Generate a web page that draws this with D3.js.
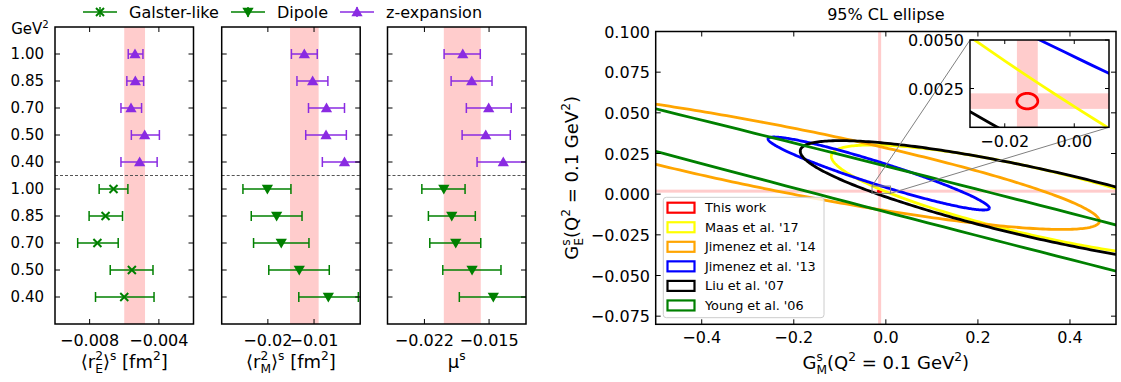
<!DOCTYPE html>
<html>
<head>
<meta charset="utf-8">
<script src="https://cdn.jsdelivr.net/npm/d3@7"></script>
<style>
  body { margin: 0; background: #fff; }
  text { font-family: "DejaVu Sans", sans-serif; fill: #000; }
</style>
</head>
<body>
<svg id="chart" width="1121" height="382"></svg>
<script>
// ---------- data ----------
const q2Labels = ["1.00", "0.85", "0.70", "0.50", "0.40"];

// [central, lower, upper] for each Q^2 row, top to bottom
const rE_zexp = [[-0.00538, -0.00577, -0.00492], [-0.00536, -0.00585, -0.00488], [-0.00561, -0.00619, -0.00500], [-0.00482, -0.00559, -0.00397], [-0.00511, -0.00619, -0.00410]];
const rE_galster = [[-0.00662, -0.00745, -0.00579], [-0.00708, -0.00803, -0.00610], [-0.00755, -0.00869, -0.00635], [-0.00556, -0.00681, -0.00434], [-0.00600, -0.00766, -0.00428]];
const rM_zexp = [[-0.0121, -0.0149, -0.0093], [-0.0103, -0.0137, -0.0070], [-0.0073, -0.0112, -0.0034], [-0.0074, -0.0118, -0.0030], [-0.0034, -0.0082, 0.0014]];
const rM_dipole = [[-0.0201, -0.0254, -0.0150], [-0.0181, -0.0236, -0.0126], [-0.0171, -0.0231, -0.0111], [-0.0132, -0.0198, -0.0067], [-0.0069, -0.0133, -0.0004]];
const mu_zexp = [[-0.01785, -0.01987, -0.01595], [-0.01688, -0.01911, -0.01468], [-0.01504, -0.01746, -0.01260], [-0.01536, -0.01792, -0.01270], [-0.01346, -0.01630, -0.01062]];
const mu_dipole = [[-0.01990, -0.02228, -0.01760], [-0.01904, -0.02157, -0.01649], [-0.01861, -0.02142, -0.01590], [-0.01684, -0.02001, -0.01371], [-0.01454, -0.01822, -0.01086]];

// "this work" bands
const rE_band = [-0.0060, -0.0048];
const rM_band = [-0.0152, -0.0090];
const mu_band = [-0.0199, -0.0159];

// 95% CL ellipses: centre, half extents and correlation
const ellipseLabels = ["This work", "Maas et al. '17", "Jimenez et al. '14", "Jimenez et al. '13", "Liu et al. '07", "Young et al. '06"];
const ellipseColors = ["red", "yellow", "orange", "blue", "black", "green"];
const gmCenter = [-0.0135, 0.3246, -0.216, -0.0155, 0.344, 0.3];
const geCenter = [0.00185, -0.0047, 0.0211, 0.0127, -0.0066, -0.0186];
const gmHalf = [0.003, 0.443, 0.68, 0.2405, 0.53, 2.0];
const geHalf = [0.0004, 0.03494, 0.0428, 0.02244, 0.0395, 0.1457];
const corr = [0, -0.801, -0.880, -0.947, -0.8355, -0.9952];

const purple = "#8a2be2", green = "#008000", pink = "#ffcccc";

const svg = d3.select("#chart");

function measure(str, size) {
    const t = svg.append("text").attr("font-size", size).text(str);
    const w = t.node().getComputedTextLength();
    t.remove();
    return w;
}

// text with simple super/subscripts
function mathText(g, parts, size) {
    const small = size * 0.68;
    let cur = 0, pad = 0;
    parts.forEach((p) => {
        if (typeof p === "string") {
            g.append("tspan").attr("dx", pad).attr("dy", -cur).attr("font-size", size).text(p);
            cur = 0; pad = 0;
        } else {
            let w = 0;
            if (p.sup) {
                const o = -size * 0.42;
                g.append("tspan").attr("dx", pad).attr("dy", o - cur).attr("font-size", small).text(p.sup);
                cur = o; pad = 0; w = measure(p.sup, small);
            }
            if (p.sub) {
                const o = size * 0.3, ws = measure(p.sub, small);
                g.append("tspan").attr("dx", pad - w).attr("dy", o - cur).attr("font-size", small).text(p.sub);
                cur = o; pad = Math.max(0, w - ws);
            }
        }
    });
    return g;
}

// ---------- left: three errorbar panels ----------
const panelTop = 27, panelBottom = 324, panelWidth = 138.5, tickLen = 5;
const rowY = d3.scaleLinear().domain([0, 11]).range([panelTop, panelBottom]);

const panels = [
    { left: 55, domain: [-0.010, -0.002], ticks: [-0.008, -0.004], fmt: d3.format(".3f"), band: rE_band, upper: rE_zexp, lower: rE_galster, lowerMarker: "x",
      label: ["\u27e8r", { sup: "2", sub: "E" }, "\u27e9", { sup: "s" }, " [fm", { sup: "2" }, "]"] },
    { left: 221.7, domain: [-0.03, 0.0], ticks: [-0.02, -0.01], fmt: d3.format(".2f"), band: rM_band, upper: rM_zexp, lower: rM_dipole, lowerMarker: "down",
      label: ["\u27e8r", { sup: "2", sub: "M" }, "\u27e9", { sup: "s" }, " [fm", { sup: "2" }, "]"] },
    { left: 387.5, domain: [-0.026, -0.011], ticks: [-0.022, -0.015], fmt: d3.format(".3f"), band: mu_band, upper: mu_zexp, lower: mu_dipole, lowerMarker: "down",
      label: ["\u03bc", { sup: "s" }] }
];

const triUp = d3.symbol(d3.symbolTriangle, 55)();

function drawMarker(g, kind, color) {
    if (kind === "x") {
        g.append("path").attr("d", "M-4,-4L4,4M-4,4L4,-4").attr("stroke", color).attr("stroke-width", 2);
    } else {
        g.append("path").attr("d", triUp).attr("fill", color)
            .attr("transform", kind === "down" ? "translate(0,-1) rotate(180)" : "translate(0,1)");
    }
}

panels.forEach((p, pi) => {
    const x = d3.scaleLinear().domain(p.domain).range([p.left, p.left + panelWidth]);
    const g = svg.append("g");
    const clipId = "clip" + pi;
    svg.append("clipPath").attr("id", clipId).append("rect")
        .attr("x", p.left).attr("y", panelTop).attr("width", panelWidth).attr("height", panelBottom - panelTop);
    const inner = g.append("g").attr("clip-path", `url(#${clipId})`);

    inner.append("rect").attr("x", x(p.band[0])).attr("width", x(p.band[1]) - x(p.band[0]))
        .attr("y", panelTop).attr("height", panelBottom - panelTop).attr("fill", pink);

    inner.append("line").attr("x1", p.left).attr("x2", p.left + panelWidth)
        .attr("y1", rowY(5.5)).attr("y2", rowY(5.5))
        .attr("stroke", "#555").attr("stroke-width", 1).attr("stroke-dasharray", "3,2");

    const series = [
        { data: p.upper, offset: 1, color: purple, marker: "up" },
        { data: p.lower, offset: 6, color: green, marker: p.lowerMarker }
    ];
    series.forEach((s) => {
        s.data.forEach((d, i) => {
            const y = rowY(i + s.offset);
            const eg = inner.append("g");
            eg.append("line").attr("x1", x(d[1])).attr("x2", x(d[2])).attr("y1", y).attr("y2", y)
                .attr("stroke", s.color).attr("stroke-width", 1.5);
            [d[1], d[2]].forEach((v) => {
                eg.append("line").attr("x1", x(v)).attr("x2", x(v)).attr("y1", y - 5).attr("y2", y + 5)
                    .attr("stroke", s.color).attr("stroke-width", 1.5);
            });
            drawMarker(eg.append("g").attr("transform", `translate(${x(d[0])},${y})`), s.marker, s.color);
        });
    });

    // frame + inward ticks
    g.append("rect").attr("x", p.left).attr("y", panelTop).attr("width", panelWidth)
        .attr("height", panelBottom - panelTop).attr("fill", "none").attr("stroke", "#000").attr("stroke-width", 1.5);
    const rows = d3.range(1, 6).concat(d3.range(6, 11));
    rows.forEach((r) => {
        const y = rowY(r);
        g.append("line").attr("x1", p.left).attr("x2", p.left + tickLen).attr("y1", y).attr("y2", y).attr("stroke", "#000");
        g.append("line").attr("x1", p.left + panelWidth - tickLen).attr("x2", p.left + panelWidth).attr("y1", y).attr("y2", y).attr("stroke", "#000");
    });
    p.ticks.forEach((t) => {
        g.append("line").attr("x1", x(t)).attr("x2", x(t)).attr("y1", panelBottom).attr("y2", panelBottom - tickLen).attr("stroke", "#000");
        g.append("line").attr("x1", x(t)).attr("x2", x(t)).attr("y1", panelTop).attr("y2", panelTop + tickLen).attr("stroke", "#000");
        g.append("text").attr("x", x(t)).attr("y", 345.5).attr("text-anchor", "middle").attr("font-size", 16).text(p.fmt(t));
    });
    mathText(g.append("text").attr("x", p.left + panelWidth / 2).attr("y", 368).attr("text-anchor", "middle"), p.label, 18);

    if (pi === 0) {
        rows.forEach((r, i) => {
            g.append("text").attr("x", 44).attr("y", rowY(r) + 5).attr("text-anchor", "end")
                .attr("font-size", 15).text(q2Labels[i % 5]);
        });
        mathText(g.append("text").attr("x", 30).attr("y", 34).attr("text-anchor", "middle"), ["GeV", { sup: "2" }], 15);
    }
});

// top legend
const topLegend = [
    { label: "Galster-like", x: 83, marker: "x", color: green },
    { label: "Dipole", x: 231, marker: "down", color: green },
    { label: "z-expansion", x: 340, marker: "up", color: purple }
];
topLegend.forEach((l) => {
    const g = svg.append("g").attr("transform", `translate(${l.x},12)`);
    g.append("line").attr("x1", 0).attr("x2", 34).attr("stroke", l.color).attr("stroke-width", 1.5);
    g.append("line").attr("x1", 17).attr("x2", 17).attr("y1", -5).attr("y2", 5).attr("stroke", l.color).attr("stroke-width", 1.5);
    drawMarker(g.append("g").attr("transform", "translate(17,0)"), l.marker, l.color);
    g.append("text").attr("x", 46).attr("y", 6).attr("font-size", 16).text(l.label);
});

// ---------- right: ellipse plot ----------
const mLeft = 655.7, mRight = 1116, mTop = 31.5, mBottom = 324.3;
const xM = d3.scaleLinear().domain([-0.5, 0.5]).range([mLeft, mRight]);
const yM = d3.scaleLinear().domain([-0.08, 0.1]).range([mBottom, mTop]);

function ellipsePoints(i) {
    const r = corr[i], s = Math.sqrt(1 - r * r);
    return d3.range(0, 361, 1).map((deg) => {
        const t = deg * Math.PI / 180;
        return [gmCenter[i] + gmHalf[i] * Math.cos(t), geCenter[i] + geHalf[i] * (r * Math.cos(t) + s * Math.sin(t))];
    });
}

function drawContent(g, x, y, lw, minBand) {
    const bx0 = gmCenter[0] - gmHalf[0], bx1 = gmCenter[0] + gmHalf[0];
    const by0 = geCenter[0] - geHalf[0], by1 = geCenter[0] + geHalf[0];
    const [r0, r1] = x.range(), [t1, t0] = y.range();
    const bw = Math.max(x(bx1) - x(bx0), minBand);
    const bh = Math.max(y(by0) - y(by1), minBand);
    g.append("rect").attr("x", (x(bx0) + x(bx1)) / 2 - bw / 2).attr("width", bw)
        .attr("y", t0).attr("height", t1 - t0).attr("fill", pink);
    g.append("rect").attr("y", (y(by0) + y(by1)) / 2 - bh / 2).attr("height", bh)
        .attr("x", r0).attr("width", r1 - r0).attr("fill", pink);
    const line = d3.line().x((d) => x(d[0])).y((d) => y(d[1]));
    ellipseLabels.forEach((_, i) => {
        g.append("path").attr("d", line(ellipsePoints(i))).attr("fill", "none")
            .attr("stroke", ellipseColors[i]).attr("stroke-width", lw);
    });
}

svg.append("clipPath").attr("id", "clipMain").append("rect")
    .attr("x", mLeft).attr("y", mTop).attr("width", mRight - mLeft).attr("height", mBottom - mTop);
drawContent(svg.append("g").attr("clip-path", "url(#clipMain)"), xM, yM, 2.8, 3);

// main frame, ticks
svg.append("rect").attr("x", mLeft).attr("y", mTop).attr("width", mRight - mLeft).attr("height", mBottom - mTop)
    .attr("fill", "none").attr("stroke", "#000").attr("stroke-width", 1.5);
const xTicksM = [-0.4, -0.2, 0.0, 0.2, 0.4];
const yTicksM = [-0.075, -0.05, -0.025, 0, 0.025, 0.05, 0.075, 0.1];
xTicksM.forEach((t) => {
    svg.append("line").attr("x1", xM(t)).attr("x2", xM(t)).attr("y1", mBottom).attr("y2", mBottom - tickLen).attr("stroke", "#000");
    svg.append("line").attr("x1", xM(t)).attr("x2", xM(t)).attr("y1", mTop).attr("y2", mTop + tickLen).attr("stroke", "#000");
    svg.append("text").attr("x", xM(t)).attr("y", 343).attr("text-anchor", "middle").attr("font-size", 16).text(d3.format(".1f")(t));
});
yTicksM.forEach((t) => {
    svg.append("line").attr("x1", mLeft).attr("x2", mLeft + tickLen).attr("y1", yM(t)).attr("y2", yM(t)).attr("stroke", "#000");
    svg.append("line").attr("x1", mRight - tickLen).attr("x2", mRight).attr("y1", yM(t)).attr("y2", yM(t)).attr("stroke", "#000");
    svg.append("text").attr("x", 650).attr("y", yM(t) + 6).attr("text-anchor", "end").attr("font-size", 16).text(d3.format(".3f")(t));
});
svg.append("text").attr("x", (mLeft + mRight) / 2).attr("y", 20).attr("text-anchor", "middle").attr("font-size", 16).text("95% CL ellipse");
mathText(svg.append("text").attr("x", (mLeft + mRight) / 2).attr("y", 369).attr("text-anchor", "middle"),
    ["G", { sup: "s", sub: "M" }, "(Q", { sup: "2" }, " = 0.1 GeV", { sup: "2" }, ")"], 18);
mathText(svg.append("text").attr("transform", `translate(578,${(mTop + mBottom) / 2}) rotate(-90)`).attr("text-anchor", "middle"),
    ["G", { sup: "s", sub: "E" }, "(Q", { sup: "2" }, " = 0.1 GeV", { sup: "2" }, ")"], 18);

// legend
const lg = svg.append("g");
lg.append("rect").attr("x", 663.3).attr("y", 197.3).attr("width", 160.7).attr("height", 120.4).attr("rx", 3)
    .attr("fill", "#fff").attr("fill-opacity", 0.8).attr("stroke", "#ccc");
ellipseLabels.forEach((name, i) => {
    const y = 207.7 + i * 19.55;
    lg.append("rect").attr("x", 667.5).attr("y", y - 5).attr("width", 27).attr("height", 10)
        .attr("fill", "none").attr("stroke", ellipseColors[i]).attr("stroke-width", 2.2);
    lg.append("text").attr("x", 705).attr("y", y + 4.5).attr("font-size", 12.8).text(name);
});

// inset
const iLeft = 970, iRight = 1109, iTop = 40, iBottom = 127.3;
const xI = d3.scaleLinear().domain([-0.03, 0.01]).range([iLeft, iRight]);
const yI = d3.scaleLinear().domain([0.0005, 0.005]).range([iBottom, iTop]);

// zoom indicator and connectors
svg.append("rect").attr("x", xM(-0.03)).attr("y", yM(0.005)).attr("width", xM(0.01) - xM(-0.03))
    .attr("height", yM(0.0005) - yM(0.005)).attr("fill", "none").attr("stroke", "#808080").attr("stroke-width", 1);
svg.append("line").attr("x1", iLeft).attr("y1", iTop).attr("x2", xM(-0.03)).attr("y2", yM(0.005)).attr("stroke", "#808080").attr("stroke-width", 1);
svg.append("line").attr("x1", iRight).attr("y1", iBottom).attr("x2", xM(0.01)).attr("y2", yM(0.0005)).attr("stroke", "#808080").attr("stroke-width", 1);

svg.append("rect").attr("x", iLeft).attr("y", iTop).attr("width", iRight - iLeft).attr("height", iBottom - iTop).attr("fill", "#fff");
svg.append("clipPath").attr("id", "clipInset").append("rect")
    .attr("x", iLeft).attr("y", iTop).attr("width", iRight - iLeft).attr("height", iBottom - iTop);
drawContent(svg.append("g").attr("clip-path", "url(#clipInset)"), xI, yI, 2.8, 0);
svg.append("rect").attr("x", iLeft).attr("y", iTop).attr("width", iRight - iLeft).attr("height", iBottom - iTop)
    .attr("fill", "none").attr("stroke", "#000").attr("stroke-width", 1.5);
[-0.02, 0.0].forEach((t) => {
    svg.append("line").attr("x1", xI(t)).attr("x2", xI(t)).attr("y1", iBottom).attr("y2", iBottom - 4).attr("stroke", "#000");
    svg.append("line").attr("x1", xI(t)).attr("x2", xI(t)).attr("y1", iTop).attr("y2", iTop + 4).attr("stroke", "#000");
    svg.append("text").attr("x", xI(t)).attr("y", 146.5).attr("text-anchor", "middle").attr("font-size", 16).text(d3.format(".2f")(t));
});
[0.0025, 0.005].forEach((t) => {
    svg.append("line").attr("x1", iLeft).attr("x2", iLeft + 4).attr("y1", yI(t)).attr("y2", yI(t)).attr("stroke", "#000");
    svg.append("line").attr("x1", iRight - 4).attr("x2", iRight).attr("y1", yI(t)).attr("y2", yI(t)).attr("stroke", "#000");
    svg.append("text").attr("x", 964).attr("y", yI(t) + 6).attr("text-anchor", "end").attr("font-size", 16).text(d3.format(".4f")(t));
});
</script>
</body>
</html>
